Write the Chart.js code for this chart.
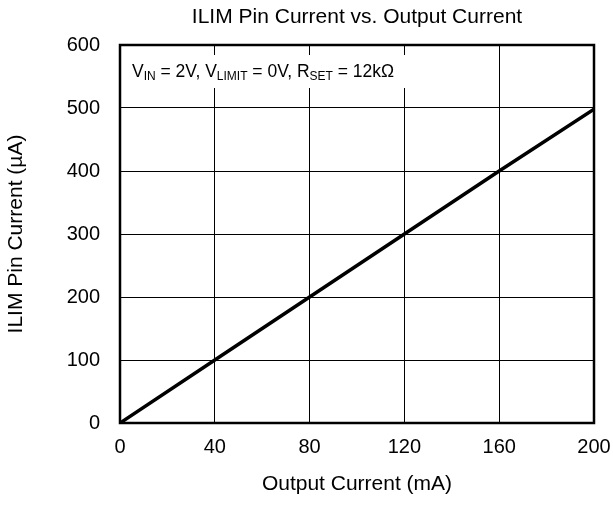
<!DOCTYPE html>
<html>
<head>
<meta charset="utf-8">
<title>ILIM Pin Current vs. Output Current</title>
<script src="https://cdn.jsdelivr.net/npm/chart.js@4/dist/chart.umd.min.js"></script>
<style>
  html, body { margin: 0; padding: 0; background: #fff; }
  canvas { display: block; }
</style>
</head>
<body>
<canvas id="chart" width="613" height="505"></canvas>
<script>
// Output current (mA) and the matching ILIM pin current (uA)
const outputCurrent = [0, 40, 80, 120, 160, 200];
const ilimCurrent = [0, 100, 200, 300, 400, 498];

// Axis ticks
const xTicks = [0, 40, 80, 120, 160, 200];
const yTicks = [0, 100, 200, 300, 400, 500, 600];

const FONT = "'Liberation Sans', Arial, Helvetica, sans-serif";

// Test conditions, drawn as symbol + subscript + rest
const conditionNote = [
  ['V', 'IN', ' = 2V, '],
  ['V', 'LIMIT', ' = 0V, '],
  ['R', 'SET', ' = 12k\u03A9']
];

const notePlugin = {
  id: 'conditionNote',
  beforeDatasetsDraw(chart) {
    const { ctx, chartArea } = chart;
    const x0 = chartArea.left + 2;
    const y0 = chartArea.top + 10;
    ctx.save();
    // white box knocks out the grid behind the text
    ctx.fillStyle = '#fff';
    ctx.fillRect(x0, y0, 292, 33);

    ctx.fillStyle = '#000';
    ctx.textBaseline = 'alphabetic';
    let x = chartArea.left + 12;
    const base = y0 + 22;
    conditionNote.forEach(([main, sub, rest]) => {
      ctx.font = '17.5px ' + FONT;
      ctx.fillText(main, x, base);
      x += ctx.measureText(main).width;
      ctx.font = '12px ' + FONT;
      ctx.fillText(sub, x, base + 3);
      x += ctx.measureText(sub).width;
      ctx.font = '17.5px ' + FONT;
      ctx.fillText(rest, x, base);
      x += ctx.measureText(rest).width;
    });
    ctx.restore();
  }
};

// Heavy frame round the plot area
const framePlugin = {
  id: 'frame',
  afterDatasetsDraw(chart) {
    const { ctx, chartArea: a } = chart;
    ctx.save();
    ctx.strokeStyle = '#000';
    ctx.lineWidth = 2.5;
    ctx.strokeRect(a.left, a.top, a.right - a.left, a.bottom - a.top);
    ctx.restore();
  }
};

new Chart(document.getElementById('chart'), {
  type: 'scatter',
  data: {
    datasets: [{
      data: outputCurrent.map((x, i) => ({ x: x, y: ilimCurrent[i] })),
      showLine: true,
      borderColor: '#000',
      borderWidth: 3.5,
      pointRadius: 0,
      tension: 0
    }]
  },
  options: {
    responsive: false,
    animation: false,
    layout: { padding: { top: 0, right: 19, bottom: 0, left: 0 } },
    plugins: {
      legend: { display: false },
      tooltip: { enabled: false },
      title: {
        display: true,
        fullSize: false,
        text: 'ILIM Pin Current vs. Output Current',
        color: '#000',
        font: { family: FONT, size: 21, weight: 'normal' },
        padding: { top: 4.9, bottom: 14.9 }
      }
    },
    scales: {
      x: {
        type: 'linear',
        min: 0,
        max: 200,
        afterBuildTicks: s => { s.ticks = xTicks.map(v => ({ value: v })); },
        afterFit: s => {
          s.height = 82;
          // let the last label hang into the right margin
          s.paddingRight = 0;
          s.paddingLeft = 0;
        },
        grid: { color: '#000', lineWidth: 1, drawTicks: false },
        border: { color: '#000', width: 2 },
        ticks: { color: '#000', padding: 12.5, font: { family: FONT, size: 20 }, maxRotation: 0 },
        title: {
          display: true,
          text: 'Output Current (mA)',
          color: '#000',
          font: { family: FONT, size: 21 },
          padding: { top: 0, bottom: 8 }
        }
      },
      y: {
        type: 'linear',
        min: 0,
        max: 600,
        afterBuildTicks: s => { s.ticks = yTicks.map(v => ({ value: v })); },
        afterFit: s => { s.width = 120; },
        grid: { color: '#000', lineWidth: 1, drawTicks: false },
        border: { color: '#000', width: 2 },
        ticks: { color: '#000', padding: 20, font: { family: FONT, size: 20 } },
        title: {
          display: true,
          text: 'ILIM Pin Current (\u00B5A)',
          color: '#000',
          font: { family: FONT, size: 21 },
          padding: { top: 4, bottom: 0 }
        }
      }
    }
  },
  plugins: [notePlugin, framePlugin]
});
</script>
</body>
</html>
